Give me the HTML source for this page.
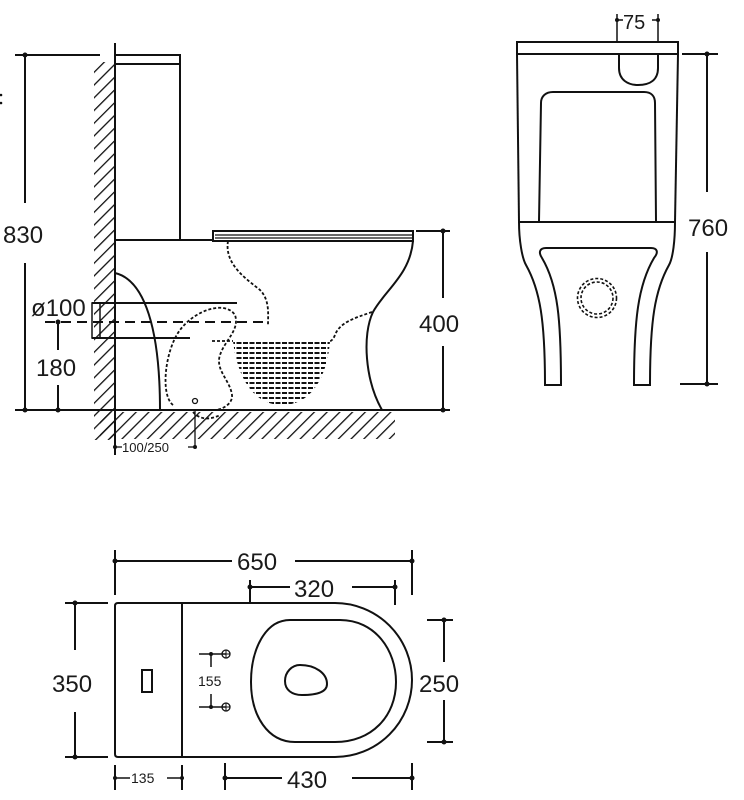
<!DOCTYPE html>
<html><head><meta charset="utf-8"><style>
html,body{margin:0;padding:0;background:#fff;}
svg{display:block;}
text{font-family:"Liberation Sans",Arial,sans-serif;fill:#1a1a1a;}
</style></head><body>
<svg width="744" height="800" viewBox="0 0 744 800" xmlns="http://www.w3.org/2000/svg">
<defs>
<pattern id="h" width="9" height="9" patternUnits="userSpaceOnUse" patternTransform="rotate(45)">
<line x1="0" y1="0" x2="0" y2="9" stroke="#111" stroke-width="2.6"/>
</pattern>
<clipPath id="water"><path d="M233,341 L330,341 C328,370 315,405 282,405 C252,405 237,375 233,341 Z"/></clipPath>
</defs>
<g fill="none" stroke="#111" stroke-width="2">
<!-- SIDE VIEW -->
<rect x="94" y="62" width="21" height="378" fill="url(#h)" stroke="none"/>
<rect x="100" y="412" width="295" height="27" fill="url(#h)" stroke="none"/>
<line x1="115" y1="43" x2="115" y2="455"/>
<!-- tank -->
<polyline points="115,55 180,55 180,240"/>
<line x1="115" y1="64" x2="180" y2="64"/>
<line x1="115" y1="240" x2="213" y2="240"/>
<!-- seat -->
<rect x="213" y="231" width="200" height="10" fill="#fff"/>
<line x1="215" y1="235" x2="412" y2="235" stroke-width="1.2"/>
<line x1="215" y1="238" x2="412" y2="238" stroke-width="1.2"/>
<!-- bowl outline -->
<path d="M413,241 C410,275 385,290 373,312 C362,335 365,380 382,410"/>
<path d="M115,273 C145,280 160,330 160,410"/>
<!-- floor -->
<line x1="15" y1="410" x2="450" y2="410"/>
<!-- pipe -->
<line x1="92" y1="303" x2="237" y2="303"/>
<line x1="92" y1="338" x2="190" y2="338"/>
<rect x="92" y="303" width="8" height="35" stroke-width="1.5"/>
<line x1="45" y1="322" x2="265" y2="322" stroke-dasharray="10,6"/>
<!-- dotted internal -->
<g stroke-dasharray="3,2" stroke-width="1.8">
<path d="M228,241 C224,265 248,280 260,290 C270,300 268,315 268,325"/>
<path d="M372,312 C355,318 340,322 335,335 C333,340 331,341 330,341"/>
<path d="M212,341 L233,341"/>
<path d="M173,405 C160,395 165,350 180,330 C195,310 225,300 235,315 C240,330 225,340 220,355 C215,370 230,380 232,395 C233,405 220,410 215,410"/>
<path d="M193,412 C200,420 210,420 220,415"/>
</g>
<g clip-path="url(#water)" stroke-dasharray="5,1.5" stroke-width="2">
<line x1="230" y1="343" x2="335" y2="343"/><line x1="230" y1="348" x2="335" y2="348"/>
<line x1="230" y1="353" x2="335" y2="353"/><line x1="230" y1="358" x2="335" y2="358"/>
<line x1="230" y1="363" x2="335" y2="363"/><line x1="230" y1="368" x2="335" y2="368"/>
<line x1="230" y1="373" x2="335" y2="373"/><line x1="230" y1="378" x2="335" y2="378"/>
<line x1="230" y1="383" x2="335" y2="383"/><line x1="230" y1="388" x2="335" y2="388"/>
<line x1="230" y1="393" x2="335" y2="393"/><line x1="230" y1="398" x2="335" y2="398"/>
<line x1="230" y1="403" x2="335" y2="403"/>
</g>
<circle cx="195" cy="401" r="2.5" stroke-width="1.3"/>
<!-- dims side -->
<line x1="15" y1="55" x2="100" y2="55"/>
<line x1="25" y1="55" x2="25" y2="203"/>
<line x1="25" y1="263" x2="25" y2="410"/>
<line x1="58" y1="322" x2="58" y2="350"/>
<line x1="58" y1="385" x2="58" y2="410"/>
<line x1="416" y1="231" x2="450" y2="231"/>
<line x1="443" y1="231" x2="443" y2="298"/>
<line x1="443" y1="346" x2="443" y2="410"/>
<line x1="195" y1="410" x2="195" y2="447" stroke-width="1.3"/>
<line x1="115" y1="447" x2="122" y2="447" stroke-width="1.3"/>
<line x1="188" y1="447" x2="195" y2="447" stroke-width="1.3"/>

<!-- FRONT VIEW -->
<rect x="517" y="42" width="161" height="12"/>
<line x1="617" y1="14" x2="617" y2="42" stroke-width="1.5"/>
<line x1="658" y1="14" x2="658" y2="42" stroke-width="1.5"/>
<line x1="617" y1="20" x2="623" y2="20" stroke-width="1.5"/>
<line x1="652" y1="20" x2="658" y2="20" stroke-width="1.5"/>
<path d="M619,54 L619,68 C619,80 628,85 638,85 C650,85 658,80 658,68 L658,54"/>
<line x1="517" y1="54" x2="519" y2="222"/>
<line x1="678" y1="54" x2="675" y2="222"/>
<path d="M539,221 L541,103 C541,96 546,92 553,92 L644,92 C651,92 655,96 655,103 L656,221"/>
<line x1="518" y1="222" x2="675" y2="222"/>
<path d="M519,222 C519,240 522,258 526,265 C540,290 545,320 545,385 L561,385 C561,320 558,285 542,258 C538,252 540,248 546,248 L651,248 C657,248 659,252 654,258 C638,285 634,320 634,385 L650,385 C650,320 655,290 669,265 C673,258 675,240 675,222"/>
<circle cx="597" cy="298" r="16" stroke-dasharray="3,2" stroke-width="1.6"/>
<circle cx="597" cy="298" r="19.5" stroke-dasharray="3,2" stroke-width="1.6"/>
<line x1="682" y1="54" x2="718" y2="54"/>
<line x1="707" y1="54" x2="707" y2="192"/>
<line x1="707" y1="252" x2="707" y2="383"/>
<line x1="680" y1="384" x2="718" y2="384"/>

<!-- TOP VIEW -->
<path d="M118,603 L335,603 A77,77 0 0 1 335,757 L118,757 Q115,757 115,754 L115,606 Q115,603 118,603 Z"/>
<line x1="182" y1="603" x2="182" y2="757"/>
<path d="M290,620 L340,620 C375,620 396,650 396,682 C396,716 372,742 335,742 L295,742 C268,742 251,716 251,682 C251,650 265,620 290,620 Z"/>
<path d="M300,665 C315,665 327,673 327,684 C327,693 315,695 302,695 C292,695 285,690 285,681 C285,672 292,665 300,665 Z"/>
<rect x="142" y="670" width="10" height="22"/>
<line x1="199" y1="654" x2="226" y2="654" stroke-width="1.5"/>
<line x1="199" y1="707" x2="226" y2="707" stroke-width="1.5"/>
<line x1="211" y1="654" x2="211" y2="667" stroke-width="1.5"/>
<line x1="211" y1="694" x2="211" y2="707" stroke-width="1.5"/>
<circle cx="226" cy="654" r="4" stroke-width="1.3"/><line x1="222" y1="654" x2="230" y2="654" stroke-width="1"/><line x1="226" y1="650" x2="226" y2="658" stroke-width="1"/>
<circle cx="226" cy="707" r="4" stroke-width="1.3"/><line x1="222" y1="707" x2="230" y2="707" stroke-width="1"/><line x1="226" y1="703" x2="226" y2="711" stroke-width="1"/>
<!-- dims top -->
<line x1="115" y1="550" x2="115" y2="595"/>
<line x1="412" y1="550" x2="412" y2="595"/>
<line x1="115" y1="561" x2="232" y2="561"/>
<line x1="295" y1="561" x2="412" y2="561"/>
<line x1="250" y1="580" x2="250" y2="603"/>
<line x1="395" y1="580" x2="395" y2="605"/>
<line x1="250" y1="587" x2="290" y2="587"/>
<line x1="352" y1="587" x2="395" y2="587"/>
<line x1="65" y1="603" x2="108" y2="603"/>
<line x1="65" y1="757" x2="108" y2="757"/>
<line x1="75" y1="603" x2="75" y2="650"/>
<line x1="75" y1="712" x2="75" y2="757"/>
<line x1="427" y1="620" x2="453" y2="620"/>
<line x1="427" y1="742" x2="453" y2="742"/>
<line x1="444" y1="620" x2="444" y2="662"/>
<line x1="444" y1="700" x2="444" y2="742"/>
<line x1="115" y1="765" x2="115" y2="790"/>
<line x1="182" y1="765" x2="182" y2="790"/>
<line x1="115" y1="778" x2="130" y2="778" stroke-width="1.5"/>
<line x1="167" y1="778" x2="182" y2="778" stroke-width="1.5"/>
<line x1="225" y1="763" x2="225" y2="790"/>
<line x1="412" y1="763" x2="412" y2="790"/>
<line x1="225" y1="778" x2="282" y2="778"/>
<line x1="352" y1="778" x2="412" y2="778"/>
</g>
<g fill="#111">
<circle cx="25" cy="55" r="2.5"/><circle cx="25" cy="410" r="2.5"/>
<circle cx="58" cy="322" r="2.5"/><circle cx="58" cy="410" r="2.5"/>
<circle cx="443" cy="231" r="2.5"/><circle cx="443" cy="410" r="2.5"/>
<circle cx="115" cy="447" r="2"/><circle cx="195" cy="447" r="2"/>
<circle cx="617" cy="20" r="2"/><circle cx="658" cy="20" r="2"/>
<circle cx="707" cy="54" r="2.5"/><circle cx="707" cy="384" r="2.5"/>
<circle cx="115" cy="561" r="2.5"/><circle cx="412" cy="561" r="2.5"/>
<circle cx="250" cy="587" r="2.5"/><circle cx="395" cy="587" r="2.5"/>
<circle cx="75" cy="603" r="2.5"/><circle cx="75" cy="757" r="2.5"/>
<circle cx="444" cy="620" r="2.5"/><circle cx="444" cy="742" r="2.5"/>
<circle cx="115" cy="778" r="2"/><circle cx="182" cy="778" r="2"/>
<circle cx="225" cy="778" r="2.5"/><circle cx="412" cy="778" r="2.5"/>
<circle cx="211" cy="654" r="2"/><circle cx="211" cy="707" r="2"/>
<circle cx="1" cy="95" r="1.3"/><circle cx="1" cy="103" r="1.3"/>
</g>
<g font-size="24">
<text x="3" y="243">830</text>
<text x="36" y="376">180</text>
<text x="31" y="316">ø100</text>
<text x="419" y="332">400</text>
<text x="688" y="236">760</text>
<text x="52" y="692">350</text>
<text x="419" y="692">250</text>
<text x="237" y="570">650</text>
<text x="294" y="597">320</text>
<text x="287" y="788">430</text>
</g>
<text x="623" y="29" font-size="20">75</text>
<text x="122" y="452" font-size="13">100/250</text>
<text x="131" y="783" font-size="14">135</text>
<text x="198" y="686" font-size="14">155</text>
</svg>
</body></html>
